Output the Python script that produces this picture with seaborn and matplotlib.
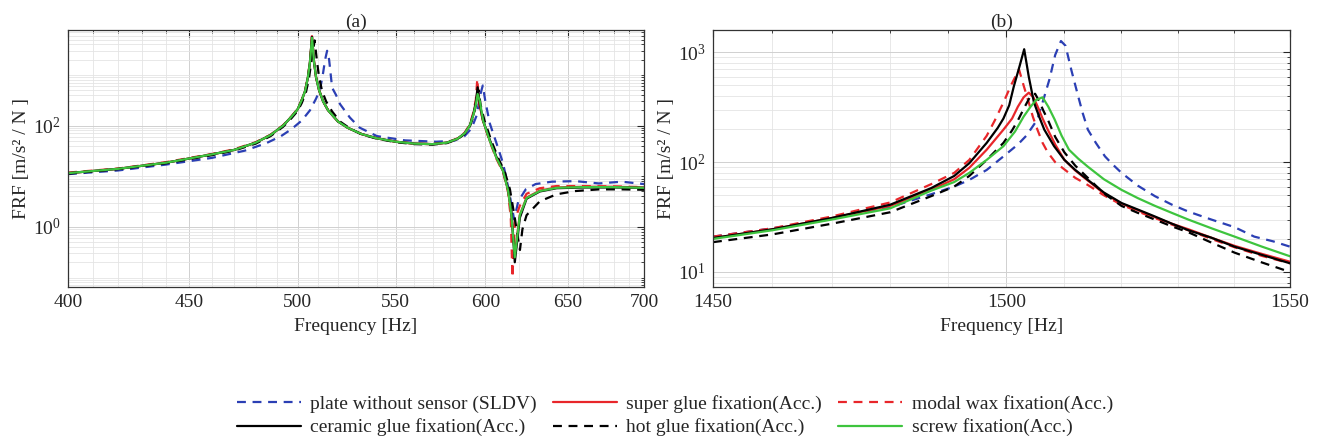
import numpy as np
import pandas as pd
import matplotlib
matplotlib.use("Agg")
import matplotlib.pyplot as plt
import matplotlib.ticker as mticker
import seaborn as sns

# ---------------- data: panel (a) ----------------
a_sldv_f = [400, 420, 440, 460, 475, 485, 492, 497, 502, 506, 509, 511, 512.5, 513.5, 514.5, 515.5, 517, 519, 521, 526, 531,
            540, 555, 572, 582, 588, 592, 595, 597, 598.5, 600, 602.6, 606.5, 610.4, 614, 617, 619.5, 624, 630, 640, 655, 670, 685, 700]
a_sldv_v = [11, 13, 17, 23, 32, 45, 62, 85, 126, 200, 340, 520, 1100, 2000, 3000, 2000, 560, 400, 265, 144, 91,
            62, 51, 48, 50, 62, 88, 160, 400, 620, 300, 110, 45, 18, 5, 1.4, 3.2, 5.5, 7, 7.8, 8, 7.2, 7.8, 7]

a_common_f = [400, 420, 440, 460, 470, 480, 487, 493, 497, 500, 502, 503.6, 505, 506, 506.6, 507, 507.4, 508, 509, 510.5,
              512.5, 515, 520, 525, 532, 540, 550, 560, 570, 578, 584, 588, 591, 593, 594.5, 595.5, 596.8, 598.7,
              602.6, 606.5, 610.4, 613.4, 615.4, 617.4, 620.4, 624.5, 632.6, 643, 660, 680, 700]
a_super_v = [11.5, 14, 18.5, 27, 33, 46, 65, 100, 150, 210, 320, 480, 900, 1800, 3600, 5800, 3600, 1800, 900, 500,
             300, 200, 120, 90, 68, 56, 48, 44, 43, 46, 55, 70, 100, 165, 280, 520, 240, 122,
             50, 23, 12.6, 5.2, 1.6, 0.3, 1.7, 3.8, 5.2, 6.0, 6.2, 6.2, 6.0]
a_ceramic_v = [11.5, 14, 18.5, 27, 33, 46, 65, 100, 150, 210, 320, 480, 900, 1800, 3600, 5600, 3600, 1800, 900, 500,
               300, 200, 120, 90, 68, 56, 48, 44, 43, 46, 55, 70, 100, 165, 290, 570, 260, 125,
               52, 24, 13, 5.5, 2.0, 0.2, 1.5, 3.6, 5.0, 5.8, 6.0, 6.0, 5.9]
a_screw_v = [11.5, 14, 18.5, 27, 33, 46, 65, 100, 150, 210, 320, 480, 900, 1800, 3500, 5400, 3500, 1800, 900, 500,
             300, 200, 120, 90, 68, 56, 48, 44, 43, 46, 55, 70, 100, 160, 260, 420, 300, 124,
             50, 23, 12.6, 5.2, 1.7, 0.25, 1.7, 3.7, 5.1, 5.9, 6.1, 6.1, 5.9]

a_wax_f = [400, 420, 440, 460, 470, 480, 487, 493, 497, 500, 502, 503.6, 505, 506, 506.6, 507, 507.4, 508, 509, 510.5,
           512.5, 515, 520, 525, 532, 540, 550, 560, 570, 578, 584, 588, 591, 593, 594.5, 595.3, 596.5, 598.7,
           602.6, 606.5, 610.4, 613.4, 615, 616, 617.5, 620.4, 624.5, 632.6, 643, 660, 680, 700]
a_wax_v = [11.8, 14.2, 19, 27.5, 34, 47, 66, 102, 152, 215, 325, 490, 920, 1850, 3700, 6000, 3700, 1800, 900, 500,
           300, 200, 120, 90, 68, 56, 48, 44, 43, 46, 56, 72, 105, 180, 330, 830, 260, 120,
           48, 22, 12, 4.8, 1.5, 0.1, 1.4, 2.6, 4.5, 5.8, 6.4, 6.4, 6.3, 6.1]

a_hot_f = [400, 420, 440, 460, 470, 480, 487, 493, 497, 500, 502, 504, 505.5, 506.8, 507.6, 508.3, 508.8, 509.5, 510.5, 512,
           514, 517, 521, 526, 532, 540, 550, 560, 570, 578, 584, 588, 591, 593, 595, 596, 597.3, 599.5,
           603.5, 607.5, 611.5, 614.5, 617, 619, 620.5, 622, 624.5, 632.6, 643, 655, 670, 685, 700]
a_hot_v = [11.2, 13.8, 18, 26, 32, 44, 62, 95, 140, 195, 280, 450, 850, 2000, 3200, 4800, 3200, 1800, 900, 480,
           300, 190, 120, 88, 67, 55, 47, 43, 42, 45, 54, 68, 96, 150, 300, 500, 250, 125,
           50, 23, 12, 5.5, 1.8, 0.7, 0.35, 0.9, 1.7, 3.2, 4.4, 5.1, 5.5, 5.5, 5.4]

# ---------------- data: panel (b) ----------------
b_sldv_f = [1450, 1460, 1470, 1480, 1487, 1491, 1493.6, 1496.6, 1499.5, 1502, 1503.5, 1505.4, 1506.5, 1507.5, 1508.5,
            1509.5, 1510.3, 1511.3, 1512.5, 1513.3, 1514.2, 1515.6, 1517.2, 1518.5, 1520.1, 1523, 1526, 1529,
            1531.9, 1536, 1540.1, 1543.6, 1547, 1550]
b_sldv_v = [21, 25, 30.5, 39, 51, 60, 69, 85, 113, 145, 175, 245, 380, 570, 950,
            1270, 1150, 695, 400, 280, 198, 150, 113, 96, 80, 61, 49, 41,
            35.5, 30, 25.6, 21, 19, 17]

b_super_f = [1450, 1460, 1470, 1480, 1487, 1491, 1493.6, 1496.6, 1499.5, 1501, 1502, 1503, 1503.9, 1504.7, 1505.4,
             1506.3, 1507.2, 1508.5, 1510.1, 1512, 1514.2, 1517, 1520.1, 1523, 1526, 1529, 1531.9, 1536, 1540.1,
             1545, 1550]
b_super_v = [20.4, 24.5, 31, 40, 56, 70, 89, 130, 198, 250, 320, 390, 430, 390, 325,
             250, 198, 145, 105, 84, 68, 52, 42, 36.5, 31.5, 27.5, 24.5, 20.5, 17.3,
             14.6, 12.4]

b_wax_f = [1450, 1460, 1470, 1480, 1487, 1491, 1493.6, 1496.6, 1498, 1499.5, 1500.8, 1502.2, 1503, 1503.9, 1504.6,
           1505.4, 1506.3, 1507.2, 1508.5, 1510.1, 1512, 1514.2, 1517, 1520.1, 1523, 1526, 1529, 1531.9, 1536,
           1540.1, 1545, 1550]
b_wax_v = [21, 25, 32, 43, 63, 80, 105, 174, 240, 350, 500, 700, 500, 350, 260,
           198, 150, 123, 100, 86, 72, 62, 50, 41, 35.5, 31, 27, 24, 20,
           16.8, 14, 12]

b_ceramic_f = [1450, 1460, 1470, 1480, 1487, 1491, 1493.6, 1496.6, 1498.5, 1499.5, 1500.5, 1501.3, 1502.3, 1503.1,
               1503.9, 1504.8, 1505.7, 1506.6, 1508.3, 1510.1, 1512, 1514.2, 1517, 1520.1, 1523, 1526, 1529, 1531.9,
               1536, 1540.1, 1545, 1550]
b_ceramic_v = [20.4, 24.5, 31, 41, 58, 75, 98, 150, 205, 250, 330, 490, 750, 1070,
               600, 350, 260, 198, 140, 105, 85, 69, 53, 42.5, 37, 32, 27.5, 24,
               20.5, 17, 14.3, 12]

b_hot_f = [1450, 1460, 1470, 1480, 1487, 1491, 1493.6, 1496.6, 1499.5, 1501, 1502, 1503.2, 1504.3, 1505, 1505.7,
           1506.5, 1507.2, 1508.5, 1510.1, 1512, 1514.2, 1517, 1520.1, 1523, 1526, 1529, 1531.9, 1536, 1540.1,
           1545, 1550]
b_hot_v = [18.7, 22, 27.5, 35, 49, 60, 75, 105, 150, 195, 240, 320, 410, 420, 360,
           290, 245, 170, 123, 93, 72, 52, 40, 34.5, 30, 26, 23, 18.5, 15,
           12.2, 10]

b_screw_f = [1450, 1460, 1470, 1480, 1487, 1491, 1493.6, 1496.6, 1499.5, 1501.5, 1503, 1504.2, 1505.2, 1506.3, 1507.3,
             1508.4, 1509.6, 1510.9, 1512.5, 1514.2, 1517, 1520.1, 1523, 1526, 1529, 1531.9, 1536, 1540.1, 1545, 1550]
b_screw_v = [20, 24, 30, 38, 55, 66, 80, 105, 140, 190, 260, 320, 370, 390, 320,
             245, 175, 130, 108, 91, 70, 56, 47, 40, 34.5, 30, 25, 21, 17, 13.9]

labels = ["plate without sensor (SLDV)", "super glue fixation(Acc.)", "modal wax fixation(Acc.)",
          "ceramic glue fixation(Acc.)", "hot glue fixation(Acc.)", "screw fixation(Acc.)"]

# ---------------- style ----------------
sns.set_style("white")
plt.rcParams['font.family'] = ['Liberation Serif', 'DejaVu Serif']
plt.rcParams['mathtext.fontset'] = 'stix'

FS = 14
BLUE = "#2b3fb4"
RED = "#e8262a"
BLACK = "#000000"
GREEN = "#3ec43e"
styles = {
    labels[0]: dict(color=BLUE, dashes=(4, 3)),
    labels[1]: dict(color=RED, dashes=None),
    labels[2]: dict(color=RED, dashes=(4, 3)),
    labels[3]: dict(color=BLACK, dashes=None),
    labels[4]: dict(color=BLACK, dashes=(4, 3)),
    labels[5]: dict(color=GREEN, dashes=None),
}

panel_a = [(a_sldv_f, a_sldv_v), (a_common_f, a_super_v), (a_wax_f, a_wax_v),
           (a_common_f, a_ceramic_v), (a_hot_f, a_hot_v), (a_common_f, a_screw_v)]
panel_b = [(b_sldv_f, b_sldv_v), (b_super_f, b_super_v), (b_wax_f, b_wax_v),
           (b_ceramic_f, b_ceramic_v), (b_hot_f, b_hot_v), (b_screw_f, b_screw_v)]

fig = plt.figure(figsize=(13.23, 4.44), dpi=100)
axA = fig.add_axes([0.0514, 0.3536, 0.4354, 0.5788])
axB = fig.add_axes([0.5389, 0.3536, 0.4362, 0.5788])

draw_order = [0, 1, 2, 4, 3, 5]
handles = {}
for ax, panel in [(axA, panel_a), (axB, panel_b)]:
    for i in draw_order:
        f, v = panel[i]
        df = pd.DataFrame({"f": f, "v": v})
        st = styles[labels[i]]
        sns.lineplot(data=df, x="f", y="v", ax=ax, color=st["color"], lw=1.6,
                     estimator=None, sort=True, label=labels[i])
        line = ax.get_lines()[-1]
        if st["dashes"] is not None:
            line.set_dashes(st["dashes"])
        handles[labels[i]] = line
    leg = ax.get_legend()
    if leg is not None:
        leg.remove()

for ax in (axA, axB):
    ax.set_xscale("log")
    ax.set_yscale("log")
    ax.set_xlabel("Frequency [Hz]", fontsize=FS, labelpad=5)
    ax.set_ylabel("FRF [m/s² / N ]", fontsize=FS, labelpad=2)
    ax.tick_params(which="both", direction="in", top=True, right=True, labelsize=FS)
    ax.tick_params(which="major", length=5, width=0.8, pad=5)
    ax.tick_params(which="minor", length=2.5, width=0.6)
    for s in ax.spines.values():
        s.set_color("#333333")
        s.set_linewidth(0.9)

# Panel (a) axes
axA.set_xlim(400, 700)
axA.set_ylim(0.065, 7700)
axA.xaxis.set_major_locator(mticker.FixedLocator([400, 450, 500, 550, 600, 650, 700]))
axA.xaxis.set_major_formatter(mticker.FormatStrFormatter("%d"))
axA.xaxis.set_minor_locator(mticker.FixedLocator(list(range(410, 700, 10))))
axA.xaxis.set_minor_formatter(mticker.NullFormatter())
axA.yaxis.set_major_locator(mticker.FixedLocator([1, 100]))
axA.yaxis.set_major_formatter(mticker.LogFormatterMathtext())
axA.yaxis.set_minor_locator(mticker.LogLocator(base=10, subs=np.arange(1, 10), numticks=30))
axA.yaxis.set_minor_formatter(mticker.NullFormatter())
axA.set_title("(a)", fontsize=FS, pad=2)

# Panel (b) axes
axB.set_xlim(1450, 1550)
axB.set_ylim(7.3, 1600)
axB.xaxis.set_major_locator(mticker.FixedLocator([1450, 1500, 1550]))
axB.xaxis.set_major_formatter(mticker.FormatStrFormatter("%d"))
axB.xaxis.set_minor_locator(mticker.FixedLocator([x for x in range(1460, 1550, 10) if x != 1500]))
axB.xaxis.set_minor_formatter(mticker.NullFormatter())
axB.yaxis.set_major_locator(mticker.FixedLocator([10, 100, 1000]))
axB.yaxis.set_major_formatter(mticker.LogFormatterMathtext())
axB.yaxis.set_minor_locator(mticker.LogLocator(base=10, subs=np.arange(2, 10), numticks=30))
axB.yaxis.set_minor_formatter(mticker.NullFormatter())
axB.set_title("(b)", fontsize=FS, pad=2)

for ax in (axA, axB):
    ax.grid(True, which="major", color="#d0d0d0", lw=0.7, ls="-")
    ax.grid(True, which="minor", color="#e4e4e4", lw=0.6, ls="-")
    ax.set_axisbelow(True)

order = [labels[0], labels[3], labels[1], labels[4], labels[2], labels[5]]
fig.legend([handles[l] for l in order], order, loc="center", bbox_to_anchor=(0.51, 0.064),
           ncol=3, frameon=False, fontsize=FS, handlelength=3.3, columnspacing=0.8,
           handletextpad=0.5, labelspacing=0.3)

fig.savefig("out.png", dpi=100)
